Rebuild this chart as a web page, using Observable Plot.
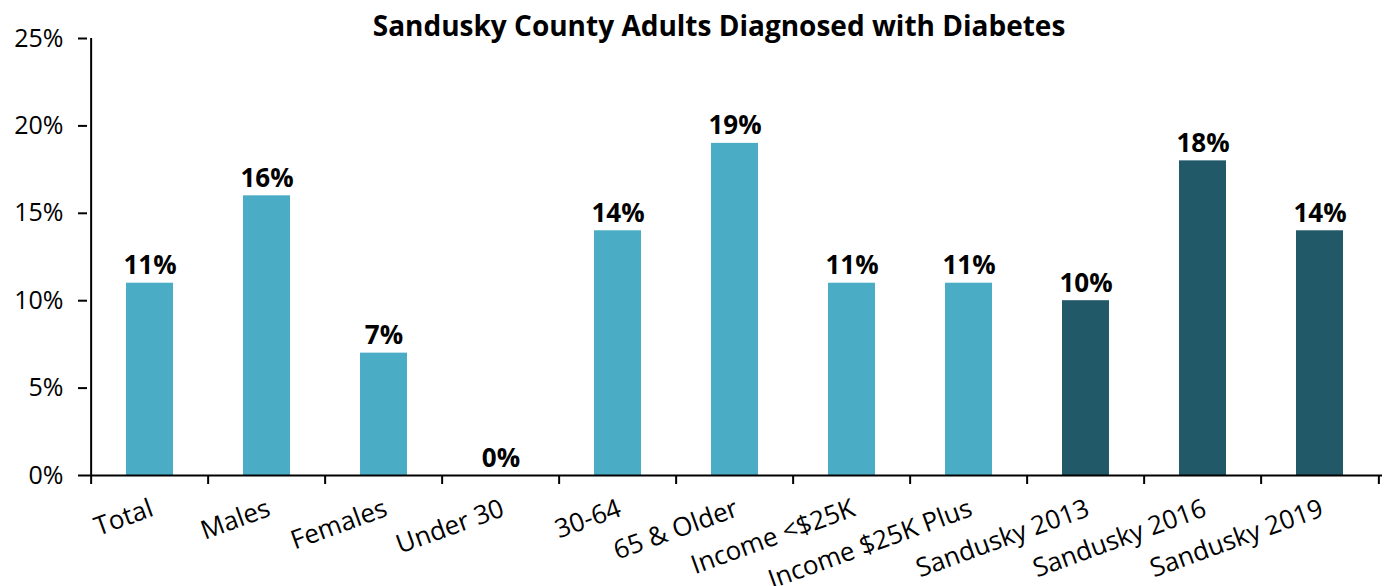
<!DOCTYPE html>
<html><head><meta charset="utf-8">
<script src="https://cdn.jsdelivr.net/npm/d3@7"></script>
<script src="https://cdn.jsdelivr.net/npm/@observablehq/plot@0.6"></script>
<style>body{margin:0;background:#fff}</style>
</head><body><div id="chart"></div>
<script>
const title = "Sandusky County Adults Diagnosed with Diabetes";
const categories = ["Total","Males","Females","Under 30","30-64","65 & Older","Income <$25K","Income $25K Plus","Sandusky 2013","Sandusky 2016","Sandusky 2019"];
const values = [11,16,7,0,14,19,11,11,10,18,14];
const groups = ["current","current","current","current","current","current","current","current","trend","trend","trend"];
const groupNames = ["current","trend"];
const groupColors = ["#4BACC6","#215968"];
const yTicks = [0,5,10,15,20,25];

const data = categories.map((c,i)=>({category:c, value:values[i], group:groups[i]}));

const W = 1392, H = 586;
const mL = 87, mR = 10, mT = 38, mB = 111;
const step = (W - mL - mR) / categories.length;
const font = "'Open Sans', sans-serif";

const chart = Plot.plot({
  width: W, height: H,
  marginLeft: mL, marginRight: mR, marginTop: mT, marginBottom: mB,
  style: {fontFamily: font, fontSize: "24px", color: "#000", background: "#fff"},
  x: {domain: categories, paddingInner: 0.6, paddingOuter: 0.3, axis: null},
  y: {domain: [0,25], axis: null},
  color: {domain: groupNames, range: groupColors},
  marks: [
    Plot.barY(data, {x:"category", y:"value", fill:"group"}),
    Plot.axisY({ticks: yTicks, tickFormat: d=>d+"%", tickSize: 9, tickPadding: 15, strokeWidth: 2, label: null, fontSize: 25}),
    Plot.ruleY([0], {stroke:"#000", strokeWidth: 2}),
    Plot.ruleX([categories[0]], {x: d=>d, dx: -step/2, y1: 0, y2: 25, stroke:"#000", strokeWidth: 2}),
    Plot.ruleX(categories, {x: d=>d, dx: -step/2, y1: 0, y2: 0, insetBottom: -9, stroke:"#000", strokeWidth: 2}),
    Plot.ruleX([categories[categories.length-1]], {x: d=>d, dx: step/2, y1: 0, y2: 0, insetBottom: -9, stroke:"#000", strokeWidth: 2}),
    Plot.text(data, {x:"category", y:"value", text: d=>d.value+"%", dy:-9, lineAnchor:"bottom", fontWeight:"bold", fontSize:26, fill:"#000"}),
    Plot.text(categories, {x: d=>d, frameAnchor:"bottom", dx: 2, dy: 32, rotate: -20, textAnchor:"end", lineAnchor:"middle", fontSize: 26, fill:"#000"}),
    Plot.text([title], {frameAnchor:"top", dx: -16, dy: -11, lineAnchor:"middle", fontWeight:"bold", fontSize: 28, fill:"#000"})
  ]
});
document.getElementById("chart").appendChild(chart);
</script>
</body></html>
